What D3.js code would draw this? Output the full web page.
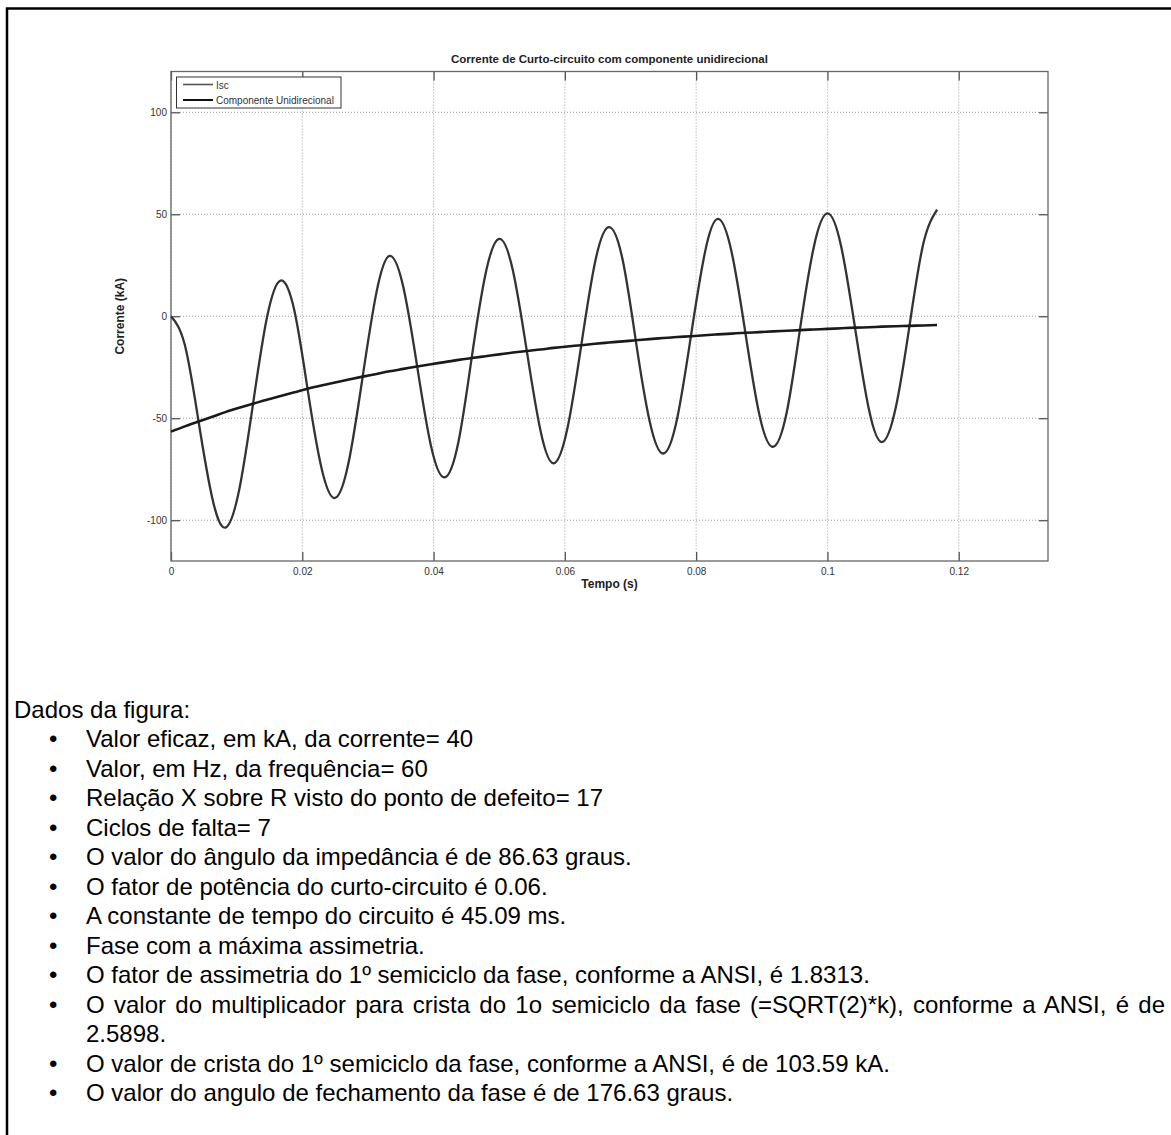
<!DOCTYPE html>
<html>
<head>
<meta charset="utf-8">
<script src="https://cdn.jsdelivr.net/npm/d3@7"></script>
<style>
body { margin: 0; background: #fff; }
#page { position: relative; width: 1171px; height: 1135px; overflow: hidden; }
#page svg { position: absolute; left: 0; top: 0; }
#dados { position: absolute; left: 14px; top: 694.5px; width: 1151px;
         font-family: "Liberation Sans", Arial, sans-serif; font-size: 24px;
         line-height: 29.5px; color: #000; }
.item { position: relative; margin-left: 72px; text-align: justify; }
.item .bul { position: absolute; left: -37px; }
</style>
</head>
<body>
<div id="page"><svg id="grafico" width="1171" height="1135"></svg><div id="dados"></div></div>
<script>
var tempo = [0, 0.0021, 0.0042, 0.0063, 0.0083, 0.0104, 0.0125, 0.0146, 0.0167, 0.0188,
    0.0208, 0.0229, 0.0250, 0.0271, 0.0292, 0.0313, 0.0333, 0.0354, 0.0375, 0.0396,
    0.0417, 0.0438, 0.0458, 0.0479, 0.0500, 0.0521, 0.0542, 0.0563, 0.0583, 0.0604,
    0.0625, 0.0646, 0.0667, 0.0688, 0.0708, 0.0729, 0.0750, 0.0771, 0.0792, 0.0813,
    0.0833, 0.0854, 0.0875, 0.0896, 0.0917, 0.0938, 0.0958, 0.0979, 0.1000, 0.1021,
    0.1042, 0.1063, 0.1083, 0.1104, 0.1125, 0.1146, 0.1167];

// Isc (kA)
var isc = [0, -14.0, -51.6, -89.3, -103.6, -84.9, -42.9, -0.9, 17.5, 2.7,
    -35.6, -74.0, -89.1, -71.0, -29.6, 11.7, 29.6, 14.2, -24.6, -63.5,
    -79.0, -61.4, -20.5, 20.5, 37.9, 22.2, -17.0, -56.3, -72.1, -54.8,
    -14.2, 26.5, 43.7, 27.7, -11.8, -51.2, -67.3, -50.2, -9.8, 30.7,
    47.7, 31.5, -8.1, -47.8, -64.0, -47.1, -6.8, 33.6, 50.4, 34.1,
    -5.6, -45.4, -61.7, -44.9, -4.7, 35.5, 52.3];

// componente unidirecional (kA)
var unidirecional = [-56.6, -54.0, -51.6, -49.3, -47.0, -44.9, -42.9, -40.9, -39.1, -37.3,
    -35.6, -34.0, -32.5, -31.0, -29.6, -28.3, -27.0, -25.8, -24.6, -23.5,
    -22.5, -21.4, -20.5, -19.6, -18.7, -17.8, -17.0, -16.3, -15.5, -14.8,
    -14.2, -13.5, -12.9, -12.3, -11.8, -11.2, -10.7, -10.2, -9.8, -9.3,
    -8.9, -8.5, -8.1, -7.8, -7.4, -7.1, -6.8, -6.5, -6.2, -5.9,
    -5.6, -5.4, -5.1, -4.9, -4.7, -4.5, -4.3];

var xTicks = [0, 0.02, 0.04, 0.06, 0.08, 0.1, 0.12];
var yTicks = [-100, -50, 0, 50, 100];
var xLimites = [0, 0.1336];
var yLimites = [-120, 120];

var titulo = "Corrente de Curto-circuito com componente unidirecional";
var rotuloX = "Tempo (s)";
var rotuloY = "Corrente (kA)";
var legendas = ["Isc", "Componente Unidirecional"];

var cabecalho = "Dados da figura:";
var itens = [
    "Valor eficaz, em kA, da corrente= 40",
    "Valor, em Hz, da frequência= 60",
    "Relação X sobre R visto do ponto de defeito= 17",
    "Ciclos de falta= 7",
    "O valor do ângulo da impedância é de 86.63 graus.",
    "O fator de potência do curto-circuito é 0.06.",
    "A constante de tempo do circuito é 45.09 ms.",
    "Fase com a máxima assimetria.",
    "O fator de assimetria do 1º semiciclo da fase, conforme a ANSI, é 1.8313.",
    "O valor do multiplicador para crista do 1o semiciclo da fase (=SQRT(2)*k), conforme a ANSI, é de 2.5898.",
    "O valor de crista do 1º semiciclo da fase, conforme a ANSI, é de 103.59 kA.",
    "O valor do angulo de fechamento da fase é de 176.63 graus."
];

var plotLeft = 171, plotRight = 1048, plotTop = 71.5, plotBottom = 561;
var fonte = '"Liberation Sans", Arial, sans-serif';

function drawGrafico() {
    var svg = d3.select('#grafico');

    // moldura do documento
    svg.append("path")
        .attr("d", "M7,1135 L7,8.5 L1171,8.5")
        .attr("fill", "none")
        .attr("stroke", "#000")
        .attr("stroke-width", 2.5);

    var x = d3.scaleLinear().domain(xLimites).range([plotLeft, plotRight]);
    var y = d3.scaleLinear().domain(yLimites).range([plotBottom, plotTop]);

    // grade pontilhada
    svg.append("g").selectAll("line")
        .data(xTicks).enter().append("line")
            .attr("x1", function(d) { return x(d); })
            .attr("x2", function(d) { return x(d); })
            .attr("y1", plotTop)
            .attr("y2", plotBottom)
            .attr("stroke", "#9a9a9a")
            .attr("stroke-width", 1)
            .attr("stroke-dasharray", "1,2");
    svg.append("g").selectAll("line")
        .data(yTicks).enter().append("line")
            .attr("x1", plotLeft)
            .attr("x2", plotRight)
            .attr("y1", function(d) { return y(d); })
            .attr("y2", function(d) { return y(d); })
            .attr("stroke", "#9a9a9a")
            .attr("stroke-width", 1)
            .attr("stroke-dasharray", "1,2");

    // eixos (ticks para dentro, nos quatro lados)
    var fmt = function(d) { return String(d); };
    var eixoX = svg.append("g")
        .attr("transform", "translate(0," + plotBottom + ")")
        .call(d3.axisBottom(x).tickValues(xTicks).tickFormat(fmt)
            .tickSizeInner(-9).tickSizeOuter(0).tickPadding(7));
    var eixoTopo = svg.append("g")
        .attr("transform", "translate(0," + plotTop + ")")
        .call(d3.axisTop(x).tickValues(xTicks).tickFormat("")
            .tickSizeInner(-9).tickSizeOuter(0));
    var eixoY = svg.append("g")
        .attr("transform", "translate(" + plotLeft + ",0)")
        .call(d3.axisLeft(y).tickValues(yTicks).tickFormat(fmt)
            .tickSizeInner(-9).tickSizeOuter(0).tickPadding(4));
    var eixoDir = svg.append("g")
        .attr("transform", "translate(" + plotRight + ",0)")
        .call(d3.axisRight(y).tickValues(yTicks).tickFormat("")
            .tickSizeInner(-9).tickSizeOuter(0));

    [eixoX, eixoTopo, eixoY, eixoDir].forEach(function(g) {
        g.select(".domain").remove();
        g.selectAll(".tick line").attr("stroke", "#555").attr("stroke-width", 1.3);
        g.selectAll("text")
            .attr("font-family", fonte)
            .attr("font-size", 10)
            .attr("fill", "#333");
    });

    // caixa dos eixos
    svg.append("rect")
        .attr("x", plotLeft)
        .attr("y", plotTop)
        .attr("width", plotRight - plotLeft)
        .attr("height", plotBottom - plotTop)
        .attr("fill", "none")
        .attr("stroke", "#666")
        .attr("stroke-width", 1.3);

    // curvas
    var pontosIsc = tempo.map(function(t, i) { return [t, isc[i]]; });
    var pontosDC = tempo.map(function(t, i) { return [t, unidirecional[i]]; });

    var linhaIsc = d3.line()
        .x(function(d) { return x(d[0]); })
        .y(function(d) { return y(d[1]); })
        .curve(d3.curveNatural);
    var linhaDC = d3.line()
        .x(function(d) { return x(d[0]); })
        .y(function(d) { return y(d[1]); })
        .curve(d3.curveMonotoneX);

    svg.append("path")
        .datum(pontosIsc)
        .attr("fill", "none")
        .attr("stroke", "#333")
        .attr("stroke-width", 2.3)
        .attr("d", linhaIsc);
    svg.append("path")
        .datum(pontosDC)
        .attr("fill", "none")
        .attr("stroke", "#1a1a1a")
        .attr("stroke-width", 2.6)
        .attr("d", linhaDC);

    // legenda
    svg.append("rect")
        .attr("x", 176.5)
        .attr("y", 77)
        .attr("width", 164.5)
        .attr("height", 31)
        .attr("fill", "#fff")
        .attr("stroke", "#333")
        .attr("stroke-width", 1);
    var legCor = ["#555", "#111"];
    var legLarg = [1.6, 2];
    legendas.forEach(function(txt, i) {
        svg.append("line")
            .attr("x1", 183).attr("x2", 213)
            .attr("y1", 84.5 + i * 15.5).attr("y2", 84.5 + i * 15.5)
            .attr("stroke", legCor[i])
            .attr("stroke-width", legLarg[i]);
        svg.append("text")
            .attr("x", 216)
            .attr("y", 88.5 + i * 15.5)
            .attr("font-family", fonte)
            .attr("font-size", 10)
            .attr("fill", "#333")
            .text(txt);
    });

    // titulo e rotulos
    svg.append("text")
        .attr("x", (plotLeft + plotRight) / 2)
        .attr("y", 63)
        .attr("text-anchor", "middle")
        .attr("font-family", fonte)
        .attr("font-weight", "bold")
        .attr("font-size", 11.5)
        .attr("fill", "#222")
        .text(titulo);
    svg.append("text")
        .attr("x", (plotLeft + plotRight) / 2)
        .attr("y", 588)
        .attr("text-anchor", "middle")
        .attr("font-family", fonte)
        .attr("font-weight", "bold")
        .attr("font-size", 12)
        .attr("fill", "#222")
        .text(rotuloX);
    svg.append("text")
        .attr("transform", "translate(124," + y(0) + ") rotate(-90)")
        .attr("text-anchor", "middle")
        .attr("font-family", fonte)
        .attr("font-weight", "bold")
        .attr("font-size", 12)
        .attr("fill", "#222")
        .text(rotuloY);
}

function drawDados() {
    var caixa = d3.select('#dados');
    caixa.append("div").text(cabecalho);
    var item = caixa.selectAll("div.item")
        .data(itens)
        .enter().append("div")
            .attr("class", "item");
    item.append("span").attr("class", "bul").text("\u2022");
    item.append("span").text(function(d) { return d; });
}

drawGrafico();
drawDados();
</script>
</body>
</html>
